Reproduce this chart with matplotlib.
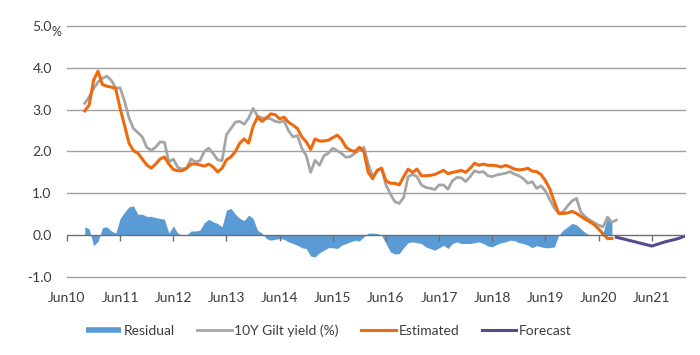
import matplotlib
matplotlib.use("Agg")
import matplotlib.pyplot as plt
from matplotlib.lines import Line2D
import numpy as np

plt.rcParams['font.family'] = ['Lato', 'DejaVu Sans']

# month index: 0 = Jun 2010
start_month = 4  # Oct 2010

estimated = [2.97, 3.11, 3.70, 3.92, 3.60, 3.56, 3.54, 3.50, 3.03, 2.62,
             2.20, 2.02, 1.96, 1.82, 1.68, 1.60, 1.70, 1.82, 1.87, 1.70,
             1.57, 1.54, 1.54, 1.60, 1.70, 1.70, 1.68, 1.65, 1.70, 1.63,
             1.51, 1.60, 1.80, 1.87, 2.00, 2.20, 2.30, 2.20, 2.60, 2.82,
             2.72, 2.80, 2.90, 2.88, 2.78, 2.82, 2.70, 2.63, 2.55, 2.35,
             2.23, 2.05, 2.30, 2.25, 2.25, 2.27, 2.33, 2.39, 2.28, 2.10,
             2.03, 2.00, 2.10, 2.00, 1.50, 1.35, 1.55, 1.60, 1.30, 1.24,
             1.24, 1.20, 1.40, 1.58, 1.50, 1.58, 1.42, 1.42, 1.43, 1.45,
             1.50, 1.55, 1.47, 1.50, 1.52, 1.55, 1.50, 1.60, 1.72, 1.67,
             1.70, 1.67, 1.67, 1.66, 1.63, 1.67, 1.63, 1.58, 1.56, 1.57,
             1.60, 1.53, 1.52, 1.45, 1.30, 1.10, 0.80, 0.52, 0.52, 0.53,
             0.57, 0.52, 0.45, 0.38, 0.32, 0.25, 0.15, 0.03, -0.08, -0.08]

gilt_yield = [3.15, 3.30, 3.50, 3.66, 3.75, 3.80, 3.70, 3.52, 3.52, 3.20,
              2.80, 2.55, 2.45, 2.35, 2.10, 2.03, 2.10, 2.23, 2.22, 1.75,
              1.82, 1.62, 1.58, 1.60, 1.82, 1.75, 1.78, 2.00, 2.08, 1.95,
              1.80, 1.78, 2.40, 2.55, 2.70, 2.72, 2.65, 2.80, 3.03, 2.85,
              2.80, 2.80, 2.78, 2.72, 2.70, 2.73, 2.50, 2.35, 2.38, 2.08,
              1.90, 1.50, 1.79, 1.67, 1.90, 1.96, 2.08, 2.02, 1.95, 1.86,
              1.88, 1.96, 2.03, 2.10, 1.70, 1.40, 1.53, 1.60, 1.20, 0.98,
              0.80, 0.76, 0.90, 1.40, 1.45, 1.40, 1.20, 1.14, 1.12, 1.09,
              1.20, 1.20, 1.10, 1.30, 1.38, 1.37, 1.28, 1.40, 1.54, 1.50,
              1.52, 1.42, 1.40, 1.44, 1.46, 1.48, 1.52, 1.46, 1.42, 1.35,
              1.24, 1.28, 1.12, 1.18, 1.05, 0.85, 0.65, 0.52, 0.56, 0.70,
              0.82, 0.88, 0.55, 0.44, 0.36, 0.30, 0.24, 0.20, 0.43, 0.31,
              0.36]

residual = [0.20, 0.15, -0.25, -0.15, 0.18, 0.20, 0.10, 0.05, 0.40, 0.55,
            0.68, 0.70, 0.50, 0.50, 0.45, 0.45, 0.42, 0.40, 0.38, 0.05,
            0.22, 0.05, 0.00, 0.00, 0.10, 0.10, 0.12, 0.30, 0.38, 0.32,
            0.28, 0.20, 0.60, 0.64, 0.50, 0.40, 0.35, 0.48, 0.40, 0.12,
            0.05, -0.08, -0.12, -0.10, -0.08, -0.10, -0.16, -0.20, -0.24, -0.30,
            -0.32, -0.50, -0.52, -0.42, -0.36, -0.30, -0.30, -0.32, -0.24, -0.20,
            -0.16, -0.12, -0.14, -0.04, 0.05, 0.05, 0.04, 0.00, -0.20, -0.40,
            -0.45, -0.44, -0.30, -0.18, -0.16, -0.18, -0.20, -0.28, -0.32, -0.36,
            -0.30, -0.24, -0.32, -0.20, -0.16, -0.20, -0.20, -0.20, -0.18, -0.16,
            -0.20, -0.26, -0.28, -0.22, -0.18, -0.16, -0.12, -0.13, -0.18, -0.20,
            -0.24, -0.30, -0.25, -0.28, -0.30, -0.30, -0.28, 0.00, 0.12, 0.20,
            0.28, 0.25, 0.15, 0.06, 0.00, 0.00, 0.00, 0.05, 0.45, 0.30]

forecast_months = [124, 126, 129, 132, 135, 138, 140]
forecast = [-0.05, -0.10, -0.18, -0.26, -0.16, -0.08, 0.00]

tick_labels = ['Jun10', 'Jun11', 'Jun12', 'Jun13', 'Jun14', 'Jun15',
               'Jun16', 'Jun17', 'Jun18', 'Jun19', 'Jun20', 'Jun21']
y_ticks = [-1.0, 0.0, 1.0, 2.0, 3.0, 4.0, 5.0]

C_RES = '#5B9BD5'
C_GILT = '#A5A5A5'
C_EST = '#EE6A10'
C_FC = '#524B8C'
C_TXT = '#3C3C3C'

m_est = np.arange(start_month, start_month + len(estimated))
m_gilt = np.arange(start_month, start_month + len(gilt_yield))
m_res = np.arange(start_month, start_month + len(residual))

fig = plt.figure(figsize=(7.0, 3.55), dpi=100)
ax = fig.add_axes([0.0957, 0.2197, 0.9786 - 0.0957, 0.9268 - 0.2197])

ax.set_xlim(0, 139.5)
ax.set_ylim(-1.0, 5.0)

for v in y_ticks:
    if v == 0:
        continue
    ax.axhline(v, color='#A0A0A0', lw=1.0, zorder=0, clip_on=False)

ax.fill_between(m_res, residual, 0, color=C_RES, lw=0, zorder=1)
ax.plot(m_gilt, gilt_yield, color=C_GILT, lw=2.0, zorder=2)
ax.plot(m_est, estimated, color=C_EST, lw=2.2, zorder=3)
ax.plot(forecast_months, forecast, color=C_FC, lw=2.2, zorder=3)

ax.axhline(0, color='#6E6E6E', lw=1.0, zorder=4)

for s in ['left', 'right', 'top']:
    ax.spines[s].set_visible(False)
ax.spines['bottom'].set_position(('data', 0))
ax.spines['bottom'].set_visible(False)

ax.set_xticks(np.arange(0, 12 * len(tick_labels), 12))
ax.set_xticklabels(tick_labels)
ax.tick_params(axis='x', direction='out', length=4, width=1, color='#6E6E6E',
               pad=37, labelsize=10, labelcolor=C_TXT)
ax.set_yticks(y_ticks)
ax.set_yticklabels([f'{v:.1f}' for v in y_ticks])
ax.tick_params(axis='y', length=0, pad=11, labelsize=10, labelcolor=C_TXT)

fig.text(51 / 700, 1 - 32 / 355, '%', fontsize=9, color=C_TXT,
         ha='left', va='center')

handles = [Line2D([], [], color=C_RES, lw=4, solid_capstyle='butt'),
           Line2D([], [], color=C_GILT, lw=2),
           Line2D([], [], color=C_EST, lw=2.2),
           Line2D([], [], color=C_FC, lw=2.2)]
labels = ['Residual', '10Y Gilt yield (%)', 'Estimated', 'Forecast']
fig.legend(handles, labels, loc='center', bbox_to_anchor=(0.47, 0.068),
           ncol=4, frameon=False, fontsize=10, handlelength=2.5,
           handletextpad=0.2, columnspacing=1.6, labelcolor=C_TXT)

fig.savefig('out.png', dpi=100)
